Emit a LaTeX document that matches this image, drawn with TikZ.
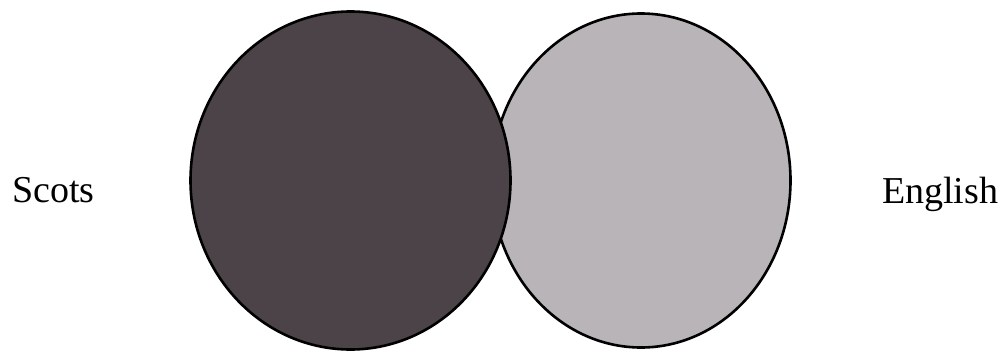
\documentclass[tikz,border=0pt]{standalone}
\usepackage{fontspec}
\setmainfont{Liberation Serif}
\usepackage{tikz}
\usetikzlibrary{shapes.geometric}
\definecolor{setdark}{HTML}{4B4347}
\definecolor{setlight}{HTML}{B8B4B8}

\begin{document}
\begin{tikzpicture}[x=1pt, y=-1pt,
  setshape/.style={draw=black, ellipse, line width=2.6pt, inner sep=0pt},
  setlabel/.style={font=\fontsize{38}{44}\selectfont, inner sep=0pt, anchor=base west}
]
\useasboundingbox (0,0) rectangle (1008,353);

\node[setshape, fill=setlight, minimum width=299pt, minimum height=334pt] (englishset) at (641,180.5) {};
\node[setshape, fill=setdark, minimum width=320pt, minimum height=338pt] (scotsset) at (350.5,180.5) {};

\node[setlabel] (scots) at (12,202) {Scots};
\node[setlabel] (english) at (882,203) {English};

\end{tikzpicture}
\end{document}
